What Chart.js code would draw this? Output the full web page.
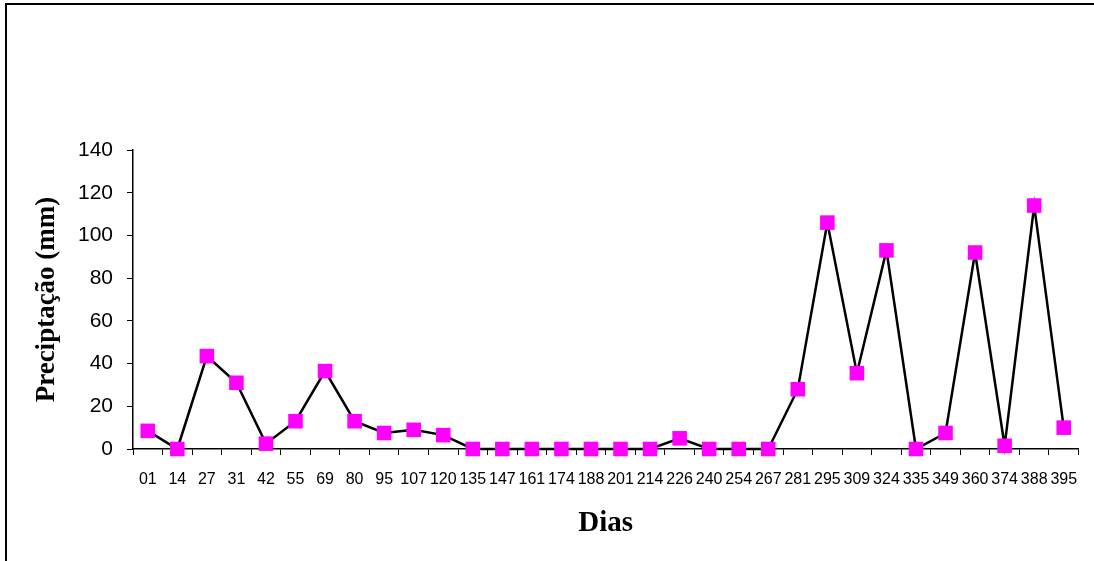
<!DOCTYPE html>
<html lang="pt">
<head>
  <meta charset="UTF-8">
  <title>Precipitação por dias</title>
  <script src="https://cdn.jsdelivr.net/npm/chart.js"></script>
  <style>
    html, body {
      margin: 0;
      padding: 0;
      background: #fff;
    }
    .wrap {
      position: relative;
      width: 1094px;
      height: 561px;
    }
    /* the frame of the original picture: only top and left edges */
    .frame {
      position: absolute;
      left: 5px;
      top: 3px;
      width: 1089px;
      height: 558px;
      border-top: 2px solid #000;
      border-left: 2px solid #000;
      pointer-events: none;
    }
  </style>
</head>
<body>
<div class="wrap">
  <canvas id="chuva" width="1094" height="561"></canvas>
  <div class="frame"></div>
</div>

<script>
  // dias de coleta (eixo x)
  const dias = ['01', '14', '27', '31', '42', '55', '69', '80', '95', '107', '120', '135', '147', '161',
    '174', '188', '201', '214', '226', '240', '254', '267', '281', '295', '309', '324', '335', '349',
    '360', '374', '388', '395'];

  // precipitação em mm
  const precipitacao = [8.5, 0, 43.5, 31, 2.5, 13, 36.5, 13, 7.5, 9, 6.5, 0, 0, 0,
    0, 0, 0, 0, 5, 0, 0, 0, 28, 106, 35.5, 93, 0, 7.5,
    92, 1.5, 114, 10];

  const yTicks = [0, 20, 40, 60, 80, 100, 120, 140];

  const ctx = document.getElementById('chuva').getContext('2d');
  new Chart(ctx, {
    type: 'line',
    data: {
      labels: dias,
      datasets: [{
        label: 'Precipitação',
        data: precipitacao,
        borderColor: '#000',
        borderWidth: 2.5,
        pointStyle: 'rect',
        pointRadius: 10.3,
        pointBackgroundColor: '#ff00ff',
        pointBorderColor: '#ff00ff',
        pointBorderWidth: 0,
        tension: 0,
        clip: false
      }]
    },
    options: {
      responsive: false,
      animation: false,
      layout: {
        padding: { top: 150, right: 15.5, left: 0, bottom: 0 }
      },
      plugins: {
        legend: { display: false },
        tooltip: { enabled: false }
      },
      scales: {
        x: {
          offset: true,
          grid: {
            offset: true,
            drawOnChartArea: false,
            tickLength: 6,
            color: '#000'
          },
          border: { color: '#000', width: 1.5 },
          ticks: {
            autoSkip: false,
            maxRotation: 0,
            minRotation: 0,
            padding: 15,
            color: '#000',
            font: { family: 'Liberation Sans', size: 16 }
          },
          title: {
            display: true,
            text: 'Dias',
            color: '#000',
            font: { family: 'Liberation Serif', size: 29, weight: 'bold' },
            padding: { top: 0, bottom: 20 }
          },
          afterFit: (scale) => { scale.height = 112; }
        },
        y: {
          min: 0,
          max: 140,
          afterBuildTicks: (scale) => {
            scale.ticks = yTicks.map(v => ({ value: v }));
          },
          grid: {
            drawOnChartArea: false,
            tickLength: 6,
            color: '#000'
          },
          border: { color: '#000', width: 1.5 },
          ticks: {
            padding: 14,
            color: '#000',
            font: { family: 'Liberation Sans', size: 21 }
          },
          title: {
            display: true,
            text: 'Preciptação (mm)',
            color: '#000',
            font: { family: 'Liberation Serif', size: 27, weight: 'bold' },
            padding: { top: 31, bottom: 0 }
          },
          afterFit: (scale) => { scale.width = 133; }
        }
      }
    }
  });
</script>
</body>
</html>
